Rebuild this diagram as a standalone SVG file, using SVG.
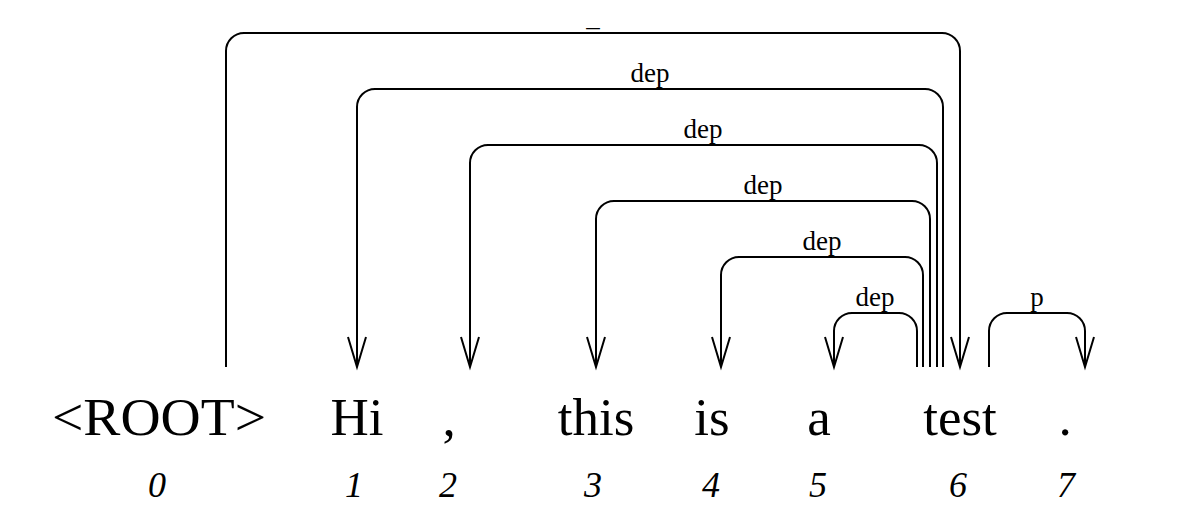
<svg xmlns="http://www.w3.org/2000/svg" width="1198" height="512" viewBox="0 0 1198 512">
<defs>
<style>
.word{font-family:"Liberation Serif","DejaVu Serif",serif;font-size:53px;fill:#000;text-anchor:middle}
.idx{font-family:"Liberation Serif","DejaVu Serif",serif;font-style:italic;font-size:36px;fill:#000;text-anchor:middle}
.lbl{font-family:"Liberation Serif","DejaVu Serif",serif;font-size:27px;fill:#000;text-anchor:middle}
.arc{fill:none;stroke:#000;stroke-width:2}
</style>
<marker id="ah" markerUnits="userSpaceOnUse" markerWidth="40" markerHeight="24" viewBox="-32 -12 40 24" refX="0" refY="0" orient="auto">
<path d="M-30,-9 L0,0 L-30,9" fill="none" stroke="#000" stroke-width="2"/>
</marker>
</defs>
<rect width="1198" height="512" fill="#fff"/>
<g id="connectors">
<path class="arc" d="M226 367 V51 A18 18 0 0 1 244 33 H942 A18 18 0 0 1 960 51 V367" marker-end="url(#ah)"/>
<text class="lbl" x="593" y="26">_</text>
<path class="arc" d="M943 367 V107 A18 18 0 0 0 925 89 H375 A18 18 0 0 0 357 107 V367" marker-end="url(#ah)"/>
<text class="lbl" x="650" y="82">dep</text>
<path class="arc" d="M937 367 V163 A18 18 0 0 0 919 145 H488 A18 18 0 0 0 470 163 V367" marker-end="url(#ah)"/>
<text class="lbl" x="703" y="138">dep</text>
<path class="arc" d="M930 367 V219 A18 18 0 0 0 912 201 H614 A18 18 0 0 0 596 219 V367" marker-end="url(#ah)"/>
<text class="lbl" x="763" y="194">dep</text>
<path class="arc" d="M923 367 V275 A18 18 0 0 0 905 257 H739 A18 18 0 0 0 721 275 V367" marker-end="url(#ah)"/>
<text class="lbl" x="822" y="250">dep</text>
<path class="arc" d="M917 367 V331 A18 18 0 0 0 899 313 H852 A18 18 0 0 0 834 331 V367" marker-end="url(#ah)"/>
<text class="lbl" x="875" y="306">dep</text>
<path class="arc" d="M989 367 V331 A18 18 0 0 1 1007 313 H1067 A18 18 0 0 1 1085 331 V367" marker-end="url(#ah)"/>
<text class="lbl" x="1037" y="306">p</text>
</g>
<g id="w0"><text class="word" x="159" y="435" textLength="214" lengthAdjust="spacingAndGlyphs">&lt;ROOT&gt;</text><text class="idx" x="157" y="497">0</text></g>
<g id="w1"><text class="word" x="357" y="435">Hi</text><text class="idx" x="354" y="497">1</text></g>
<g id="w2"><text class="word" x="449" y="435">,</text><text class="idx" x="448" y="497">2</text></g>
<g id="w3"><text class="word" x="596" y="435">this</text><text class="idx" x="593" y="497">3</text></g>
<g id="w4"><text class="word" x="712" y="435">is</text><text class="idx" x="711" y="497">4</text></g>
<g id="w5"><text class="word" x="819" y="435">a</text><text class="idx" x="818" y="497">5</text></g>
<g id="w6"><text class="word" x="960" y="435">test</text><text class="idx" x="958" y="497">6</text></g>
<g id="w7"><text class="word" x="1065" y="435">.</text><text class="idx" x="1066" y="497">7</text></g>
</svg>
